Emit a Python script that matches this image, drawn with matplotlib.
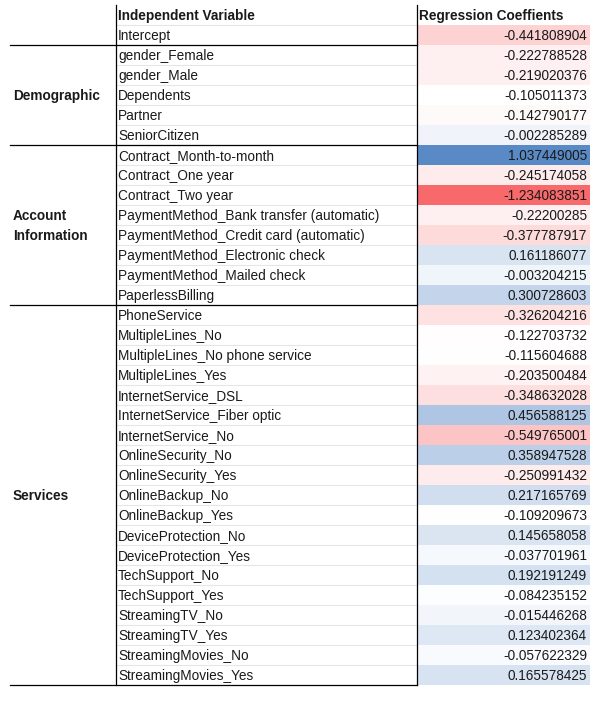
import numpy as np
import matplotlib
matplotlib.use('agg')
import matplotlib.pyplot as plt
from matplotlib.colors import to_rgb

groups = [('', 1), ('Demographic', 5), ('Account\nInformation', 8), ('Services', 19)]

variables = [
    'Intercept',
    'gender_Female', 'gender_Male', 'Dependents', 'Partner', 'SeniorCitizen',
    'Contract_Month-to-month', 'Contract_One year', 'Contract_Two year',
    'PaymentMethod_Bank transfer (automatic)', 'PaymentMethod_Credit card (automatic)',
    'PaymentMethod_Electronic check', 'PaymentMethod_Mailed check', 'PaperlessBilling',
    'PhoneService', 'MultipleLines_No', 'MultipleLines_No phone service', 'MultipleLines_Yes',
    'InternetService_DSL', 'InternetService_Fiber optic', 'InternetService_No',
    'OnlineSecurity_No', 'OnlineSecurity_Yes', 'OnlineBackup_No', 'OnlineBackup_Yes',
    'DeviceProtection_No', 'DeviceProtection_Yes', 'TechSupport_No', 'TechSupport_Yes',
    'StreamingTV_No', 'StreamingTV_Yes', 'StreamingMovies_No', 'StreamingMovies_Yes',
]

coefficients = [
    '-0.441808904',
    '-0.222788528', '-0.219020376', '-0.105011373', '-0.142790177', '-0.002285289',
    '1.037449005', '-0.245174058', '-1.234083851',
    '-0.22200285', '-0.377787917', '0.161186077', '-0.003204215', '0.300728603',
    '-0.326204216', '-0.122703732', '-0.115604688', '-0.203500484',
    '-0.348632028', '0.456588125', '-0.549765001',
    '0.358947528', '-0.250991432', '0.217165769', '-0.109209673',
    '0.145658058', '-0.037701961', '0.192191249', '-0.084235152',
    '-0.015446268', '0.123402364', '-0.057622329', '0.165578425',
]


def scale_colour(v, lo, mid, hi):
    red, white, blue = np.array(to_rgb('#F8696B')), np.ones(3), np.array(to_rgb('#5A8AC6'))
    if v <= mid:
        t = (mid - v) / (mid - lo)
        return white + (red - white) * t
    t = (v - mid) / (hi - mid)
    return white + (blue - white) * t


W, H = 611, 716
fig = plt.figure(figsize=(W / 100, H / 100), dpi=100)
ax = fig.add_axes([0, 0, 1, 1])
ax.set_xlim(0, W)
ax.set_ylim(H, 0)
ax.axis('off')
plt.rcParams['font.family'] = ['Liberation Sans', 'DejaVu Sans']

top, row_h = 5, 20
x_left, x_var, x_coef, x_right = 10, 116, 417, 590
fs = 9.8
ink = '#1a1a1a'

vals = np.array([float(c) for c in coefficients])
lo, mid, hi = vals.min(), np.median(vals), vals.max()

ax.text(x_var + 2, top + row_h / 2 + 1, 'Independent Variable', fontsize=fs, fontweight='bold',
        va='center', color=ink)
ax.text(x_coef + 2, top + row_h / 2 + 1, 'Regression Coeffients', fontsize=fs, fontweight='bold',
        va='center', color=ink)

for i, (name, c) in enumerate(zip(variables, coefficients)):
    y0 = top + row_h * (i + 1)
    ax.add_patch(plt.Rectangle((x_coef, y0), x_right - x_coef, row_h,
                               facecolor=scale_colour(float(c), lo, mid, hi), edgecolor='none'))
    ax.text(x_var + 2, y0 + row_h / 2 + 1, name, fontsize=fs, va='center', color=ink)
    ax.text(x_right - 3, y0 + row_h / 2 + 1, c, fontsize=fs, va='center', ha='right', color=ink)
    ax.plot([x_var, x_coef], [y0, y0], color='#e6e6e6', lw=0.8)

start = 1
for label, n in groups:
    y0 = top + row_h * start
    y1 = y0 + row_h * n
    if label:
        ax.text(x_left + 3, (y0 + y1) / 2 + 1, label, fontsize=fs, fontweight='bold', va='center',
                linespacing=1.5, color=ink)
        ax.plot([x_left, x_coef], [y0, y0], color='black', lw=0.9)
    start += n
ax.plot([x_left, x_coef], [top + row_h * 34, top + row_h * 34], color='black', lw=0.9)

for x in (x_var, x_coef):
    ax.plot([x, x], [top, top + row_h * 34], color='black', lw=0.9)

fig.savefig('out.png', dpi=100)
